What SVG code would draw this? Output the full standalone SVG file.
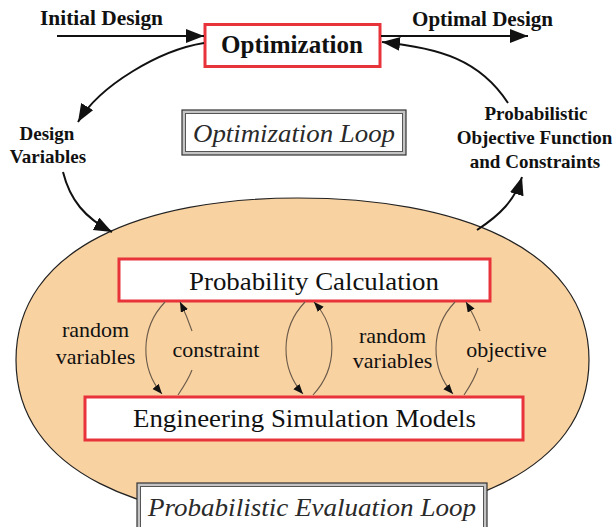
<svg xmlns="http://www.w3.org/2000/svg" width="615" height="527" viewBox="0 0 615 527">
<defs>
<style>
text{font-family:'Liberation Serif','Tinos','Times New Roman','DejaVu Serif',serif}
.lbl{font-weight:bold;fill:#111;text-anchor:middle}
.big{fill:#111;text-anchor:middle;font-size:26px}
.ital{font-style:italic;fill:#2a2a2a;text-anchor:middle;font-size:26px}
.small{fill:#111;text-anchor:middle;font-size:22px}
.redbox{fill:#fff;stroke:#e8333b;stroke-width:3}
.frameout{fill:#c4c4c4;stroke:#333;stroke-width:1.2}
.framein{fill:#fff;stroke:#555;stroke-width:1}
.bigarrow{fill:none;stroke:#111;stroke-width:2;marker-end:url(#bighead)}
.thin{fill:none;stroke:#6b5a4a;stroke-width:1.1}
.thinarrow{fill:none;stroke:#6b5a4a;stroke-width:1.1;marker-end:url(#smallhead)}
</style>
<marker id="bighead" markerUnits="userSpaceOnUse" markerWidth="20" markerHeight="16" refX="18" refY="7" orient="auto">
<path d="M0,0 L18,7 L0,14 Z" fill="#111"/>
</marker>
<marker id="smallhead" markerUnits="userSpaceOnUse" markerWidth="12" markerHeight="10" refX="10" refY="4" orient="auto">
<path d="M0,0 L10,4 L0,8 Z" fill="#111"/>
</marker>
</defs>
<rect width="615" height="527" fill="#fff"/>

<g id="eval-region">
<path d="M16,360 C16,247 145,198 298,198 C455,198 589,247 589,360 C589,473 455,522 298,522 C145,522 16,473 16,360 Z" fill="#f9d2a1" stroke="#222" stroke-width="1.2"/>
</g>

<g id="optimization">
<rect class="redbox" x="205" y="24.5" width="175" height="42"/>
<text class="big" x="292" y="53" font-family="Liberation Serif, serif" style="font-size:26px;font-weight:bold" textLength="142" lengthAdjust="spacingAndGlyphs">Optimization</text>
</g>

<g id="optimization-loop">
<rect class="frameout" x="182" y="110" width="224" height="45"/>
<rect class="framein" x="185.5" y="113.5" width="217" height="38"/>
<text class="ital" x="294" y="142" font-family="Liberation Serif, serif" textLength="202" lengthAdjust="spacingAndGlyphs">Optimization Loop</text>
</g>

<g id="probability-calculation">
<rect class="redbox" x="119" y="259" width="371" height="42"/>
<text class="big" x="314" y="290" font-family="Liberation Serif, serif" textLength="250" lengthAdjust="spacingAndGlyphs">Probability Calculation</text>
</g>

<g id="engineering-simulation">
<rect class="redbox" x="85" y="397" width="438" height="43"/>
<text class="big" x="304.5" y="427" font-family="Liberation Serif, serif" textLength="343" lengthAdjust="spacingAndGlyphs">Engineering Simulation Models</text>
</g>

<g id="evaluation-loop">
<rect class="frameout" x="137" y="483" width="350" height="60"/>
<rect class="framein" x="140.5" y="486.5" width="343" height="60"/>
<text class="ital" x="312" y="516" font-family="Liberation Serif, serif" textLength="328" lengthAdjust="spacingAndGlyphs">Probabilistic Evaluation Loop</text>
</g>

<g id="labels">
<text class="lbl" x="101.5" y="25" style="font-size:21px" textLength="123" lengthAdjust="spacingAndGlyphs">Initial Design</text>
<text class="lbl" x="482.5" y="26" style="font-size:21px" textLength="141" lengthAdjust="spacingAndGlyphs">Optimal Design</text>
<text class="lbl" x="47" y="140" style="font-size:19px">Design</text>
<text class="lbl" x="48" y="163" style="font-size:19px">Variables</text>
<text class="lbl" x="536" y="120" style="font-size:19px">Probabilistic</text>
<text class="lbl" x="534.5" y="144" style="font-size:19px">Objective Function</text>
<text class="lbl" x="535" y="168" style="font-size:19px">and Constraints</text>
<text class="small" x="95.5" y="337">random</text>
<text class="small" x="95.5" y="364">variables</text>
<text class="small" x="216" y="357">constraint</text>
<text class="small" x="392.5" y="343">random</text>
<text class="small" x="392.5" y="368">variables</text>
<text class="small" x="506.5" y="357">objective</text>
</g>

<g id="connectors">
<path class="bigarrow" d="M57,36 L204,36"/>
<path class="bigarrow" d="M381,36 L528,36"/>
<path class="bigarrow" d="M204,43 C160,50 100,85 78,122"/>
<path class="bigarrow" d="M63,172 C70,200 85,218 112,232"/>
<path class="bigarrow" d="M477,230 C500,215 515,200 522,177"/>
<path class="bigarrow" d="M508,103 C480,60 440,48 382,42"/>

<path class="thinarrow" d="M165,302 C140,328 140,368 162,394"/>
<path class="thin" d="M178,395 C184,386 189,378 192,370"/>
<path class="thinarrow" d="M192,331 C189,322 185,312 180,302"/>

<path class="thinarrow" d="M305,302 C280,328 280,368 303,394"/>
<path class="thinarrow" d="M313,395 C338,368 338,328 314,302"/>

<path class="thinarrow" d="M455,302 C430,328 430,368 453,394"/>
<path class="thin" d="M464,395 C470,386 475,378 478,368"/>
<path class="thinarrow" d="M480,331 C477,322 472,312 466,302"/>
</g>
</svg>
